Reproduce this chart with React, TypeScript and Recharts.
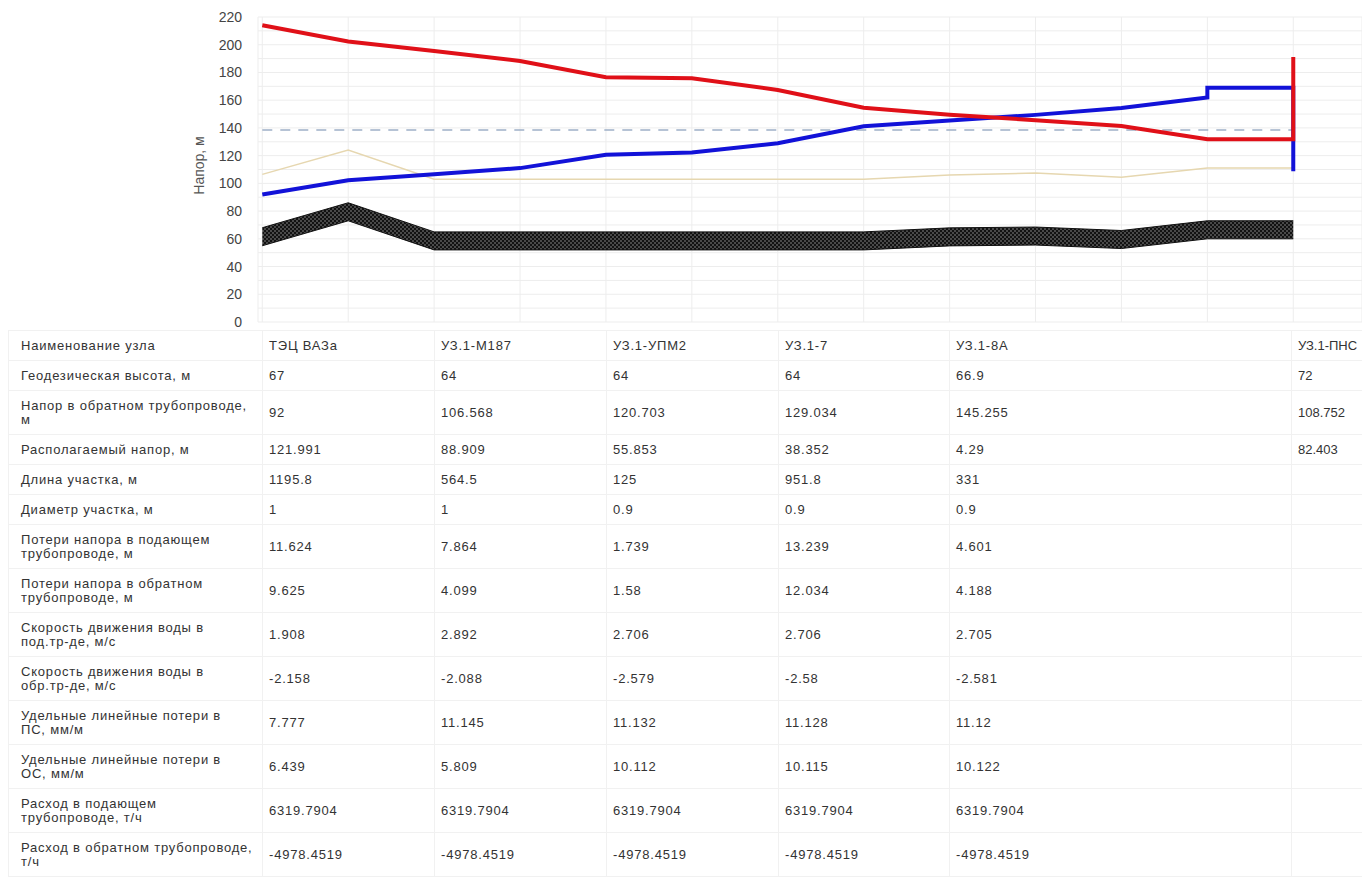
import React from 'react';
import { ComposedChart, Line, Area, XAxis, YAxis, CartesianGrid } from 'recharts';

// ---- chart data (x = position index along the route) ----
const pointIdx = [0, 1, 2, 3, 4, 5, 6, 7, 8, 9, 10, 11, 12];
const groundHeight = [67, 85, 64, 64, 64, 64, 64, 64, 66.9, 67.5, 65, 72, 72];
const staticHead = [106.5, 124, 103, 103, 103, 103, 103, 103, 106, 107.5, 104.5, 111, 111];

const supplyX = [0, 1, 2, 3, 4, 5, 6, 7, 8, 9, 10, 11, 12, 12];
const supplyHead = [214, 202.3, 195.5, 188.3, 176.6, 175.8, 167.4, 154.6, 149.5, 145.6, 141.4, 131.8, 131.8, 191.2];

const returnX = [0, 1, 2, 3, 4, 5, 6, 7, 8, 9, 10, 11, 11, 12, 12];
const returnHead = [92, 102.3, 106.6, 111, 120.7, 122.2, 129, 141.2, 145.3, 149.4, 154.4, 162, 169, 169, 108.75];

const dashedX = [0, 12];
const dashedHead = [138.5, 138.5];

const yTicks = [0, 10, 20, 30, 40, 50, 60, 70, 80, 90, 100, 110, 120, 130, 140, 150, 160, 170, 180, 190, 200, 210, 220];

// ---- table data ----
const nodeNames = ['ТЭЦ ВАЗа', 'УЗ.1-М187', 'УЗ.1-УПМ2', 'УЗ.1-7', 'УЗ.1-8А', 'УЗ.1-ПНС'];
const rowLabels = [
  'Наименование узла',
  'Геодезическая высота, м',
  'Напор в обратном трубопроводе,\nм',
  'Располагаемый напор, м',
  'Длина участка, м',
  'Диаметр участка, м',
  'Потери напора в подающем\nтрубопроводе, м',
  'Потери напора в обратном\nтрубопроводе, м',
  'Скорость движения воды в\nпод.тр-де, м/с',
  'Скорость движения воды в\nобр.тр-де, м/с',
  'Удельные линейные потери в\nПС, мм/м',
  'Удельные линейные потери в\nОС, мм/м',
  'Расход в подающем\nтрубопроводе, т/ч',
  'Расход в обратном трубопроводе,\nт/ч',
];
const geoRow = ['67', '64', '64', '64', '66.9', '72'];
const returnRow = ['92', '106.568', '120.703', '129.034', '145.255', '108.752'];
const availRow = ['121.991', '88.909', '55.853', '38.352', '4.29', '82.403'];
const lengthRow = ['1195.8', '564.5', '125', '951.8', '331', ''];
const diamRow = ['1', '1', '0.9', '0.9', '0.9', ''];
const lossSupplyRow = ['11.624', '7.864', '1.739', '13.239', '4.601', ''];
const lossReturnRow = ['9.625', '4.099', '1.58', '12.034', '4.188', ''];
const speedSupplyRow = ['1.908', '2.892', '2.706', '2.706', '2.705', ''];
const speedReturnRow = ['-2.158', '-2.088', '-2.579', '-2.58', '-2.581', ''];
const specLossSupplyRow = ['7.777', '11.145', '11.132', '11.128', '11.12', ''];
const specLossReturnRow = ['6.439', '5.809', '10.112', '10.115', '10.122', ''];
const flowSupplyRow = ['6319.7904', '6319.7904', '6319.7904', '6319.7904', '6319.7904', ''];
const flowReturnRow = ['-4978.4519', '-4978.4519', '-4978.4519', '-4978.4519', '-4978.4519', ''];

const tableRows = [
  nodeNames, geoRow, returnRow, availRow, lengthRow, diamRow, lossSupplyRow, lossReturnRow,
  speedSupplyRow, speedReturnRow, specLossSupplyRow, specLossReturnRow, flowSupplyRow, flowReturnRow,
];

const baseData = pointIdx.map((x, i) => ({ x, ground: groundHeight[i], stat: staticHead[i] }));
const supplyData = supplyX.map((x, i) => ({ x, v: supplyHead[i] }));
const returnData = returnX.map((x, i) => ({ x, v: returnHead[i] }));
const dashedData = dashedX.map((x, i) => ({ x, v: dashedHead[i] }));

const FONT = '"Liberation Sans", Arial, sans-serif';
const BAND_BELOW = 12;
const BAND_ABOVE = 1;

const YTitle = (props: any) => {
  const vb = props.viewBox || { x: 188, y: 17, height: 305 };
  const x = vb.x + 11;
  const y = vb.y + vb.height / 2 - 4;
  return (
    <text x={x} y={y} transform={`rotate(-90 ${x} ${y})`} textAnchor="middle" dominantBaseline="central"
      fontSize={14} fill="#555" fontFamily={FONT}>
      Напор, м
    </text>
  );
};

const colWidths = [254, 172, 172, 172, 171, 342, 71];

export default function App() {
  return (
    <div style={{ position: 'absolute', left: 0, top: 0, width: 1362, height: 877, overflow: 'hidden', background: '#fff' }}>
      <ComposedChart width={1362} height={330} data={baseData} margin={{ top: 17, right: 0, bottom: 8, left: 188 }}>
        <defs>
          <pattern id="groundDots" width="4" height="4" patternUnits="userSpaceOnUse">
            <rect width="4" height="4" fill="#121212" />
            <circle cx="1" cy="1" r="0.75" fill="#9a9a9a" />
            <circle cx="3" cy="3" r="0.75" fill="#9a9a9a" />
          </pattern>
        </defs>
        <CartesianGrid stroke="#ededed" strokeWidth={1} />
        <XAxis type="number" dataKey="x" domain={[-0.05, 12.8]} ticks={pointIdx} hide />
        <YAxis
          type="number"
          domain={[0, 220]}
          ticks={yTicks}
          width={70}
          axisLine={false}
          tickLine={false}
          tickMargin={10}
          interval={0}
          tickFormatter={(v: number) => (v % 20 === 0 ? String(v) : '')}
          tick={{ fontSize: 14, fill: '#444', fontFamily: FONT }}
          label={<YTitle />}
        />
        <Area
          dataKey={(d: any) => [d.ground - BAND_BELOW, d.ground + BAND_ABOVE]}
          type="linear"
          stroke="#111"
          strokeWidth={1}
          fill="url(#groundDots)"
          fillOpacity={1}
          isAnimationActive={false}
          dot={false}
          activeDot={false}
        />
        <Line dataKey="stat" type="linear" stroke="#e6d7b0" strokeWidth={1.5} dot={false} isAnimationActive={false} />
        <Line data={dashedData} dataKey="v" type="linear" stroke="#9fb0c8" strokeWidth={1.5} strokeDasharray="10 8" dot={false} isAnimationActive={false} />
        <Line data={returnData} dataKey="v" type="linear" stroke="#1212d8" strokeWidth={4} dot={false} isAnimationActive={false} />
        <Line data={supplyData} dataKey="v" type="linear" stroke="#e01018" strokeWidth={4} dot={false} isAnimationActive={false} />
      </ComposedChart>
      <table
        style={{
          position: 'absolute', left: 8, top: 330, borderCollapse: 'collapse', tableLayout: 'fixed',
          width: colWidths.reduce((a, b) => a + b, 0), fontFamily: FONT, fontSize: 13, color: '#333', letterSpacing: 0.8,
        }}
      >
        <colgroup>
          {colWidths.map((w, i) => <col key={i} style={{ width: w }} />)}
        </colgroup>
        <tbody>
          {rowLabels.map((label, r) => (
            <tr key={r}>
              <td style={{ whiteSpace: 'pre-line', lineHeight: '14px', padding: '7.5px 4px 7.5px 12px', border: '1px solid #f1f1f1', verticalAlign: 'middle', overflow: 'hidden' }}>
                {label}
              </td>
              {[0, 1, 2, 3, 4, 5].map((c) => (
                <td key={c} style={{ whiteSpace: 'nowrap', lineHeight: '14px', padding: '7.5px 0 7.5px 6px', border: '1px solid #f1f1f1', verticalAlign: 'middle', overflow: 'hidden', letterSpacing: c === 5 ? 0 : undefined }}>
                  {tableRows[r][c]}
                </td>
              ))}
            </tr>
          ))}
        </tbody>
      </table>
    </div>
  );
}
